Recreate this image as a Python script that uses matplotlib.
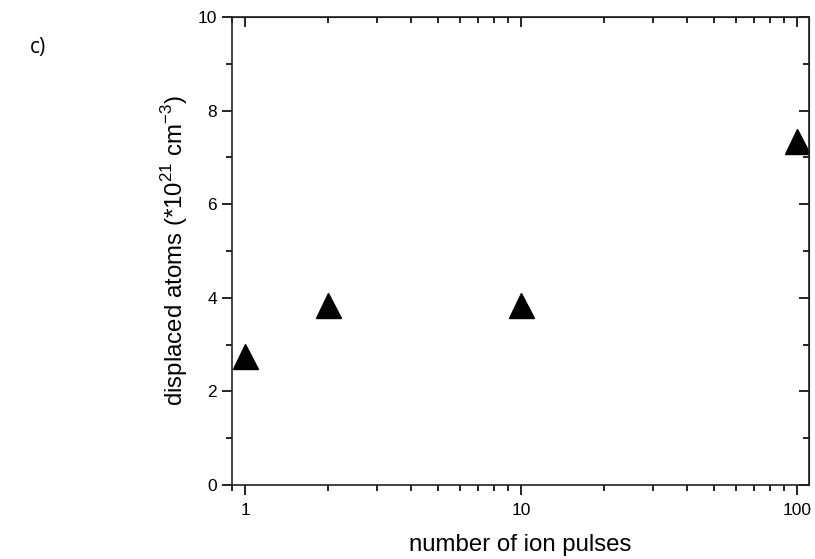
import matplotlib
matplotlib.use('Agg')
import matplotlib.pyplot as plt
from matplotlib.ticker import FixedLocator, NullFormatter, LogLocator

plt.rcParams['font.family'] = ['Liberation Sans', 'DejaVu Sans']
plt.rcParams['mathtext.fontset'] = 'custom'
plt.rcParams['mathtext.rm'] = 'Liberation Sans'

pulses = [1, 2, 10, 100]
displaced = [2.75, 3.85, 3.85, 7.35]

fig = plt.figure(figsize=(8.15, 5.59), dpi=100)
ax = fig.add_axes([0.2847, 0.1324, 0.9926 - 0.2847, 0.9696 - 0.1324])

ax.plot(pulses, displaced, linestyle='none', marker='^', markersize=18, color='black')

ax.set_xscale('log')
ax.set_xlim(0.897, 110.5)
ax.set_ylim(0, 10)
ax.set_xticks([1, 10, 100])
ax.set_xticklabels(['1', '10', '100'])
ax.xaxis.set_minor_locator(LogLocator(base=10, subs=range(2, 10)))
ax.xaxis.set_minor_formatter(NullFormatter())
ax.set_yticks([0, 2, 4, 6, 8, 10])
ax.yaxis.set_minor_locator(FixedLocator([1, 3, 5, 7, 9]))

for s in ax.spines.values():
    s.set_linewidth(1.2)
    s.set_color('#222222')

ax.tick_params(which='both', direction='out', top=False, right=False, width=1.2, labelsize=12.5)
ax.tick_params(which='major', length=7)
ax.tick_params(which='minor', length=4)
ax.tick_params(axis='x', pad=6)
ax.tick_params(axis='y', pad=4)

# inward ticks on top and right
ax2 = ax.secondary_xaxis('top')
ax2.set_xticks([1, 10, 100])
ax2.xaxis.set_minor_locator(LogLocator(base=10, subs=range(2, 10)))
ax2.xaxis.set_minor_formatter(NullFormatter())
ax2.tick_params(which='both', direction='in', labeltop=False, width=1.2)
ax2.tick_params(which='major', length=7)
ax2.tick_params(which='minor', length=4)
ax3 = ax.secondary_yaxis('right')
ax3.set_yticks([0, 2, 4, 6, 8, 10])
ax3.yaxis.set_minor_locator(FixedLocator([1, 3, 5, 7, 9]))
ax3.tick_params(which='both', direction='in', labelright=False, width=1.2)
ax3.tick_params(which='major', length=7)
ax3.tick_params(which='minor', length=4)

ax.set_xlabel('number of ion pulses', fontsize=17.3)
ax.xaxis.set_label_coords(0.5, -0.105)
ax.set_ylabel('displaced atoms (*10$^{\\mathregular{21}}$ cm$^{\\mathregular{-3}}$)', fontsize=17.3)
ax.yaxis.set_label_coords(-0.072, 0.5)

fig.text(30 / 815, 1 - 48 / 559, 'c)', fontsize=15, va='center', ha='left', family=['Open Sans', 'DejaVu Sans'])

fig.savefig('out.png', dpi=100)
